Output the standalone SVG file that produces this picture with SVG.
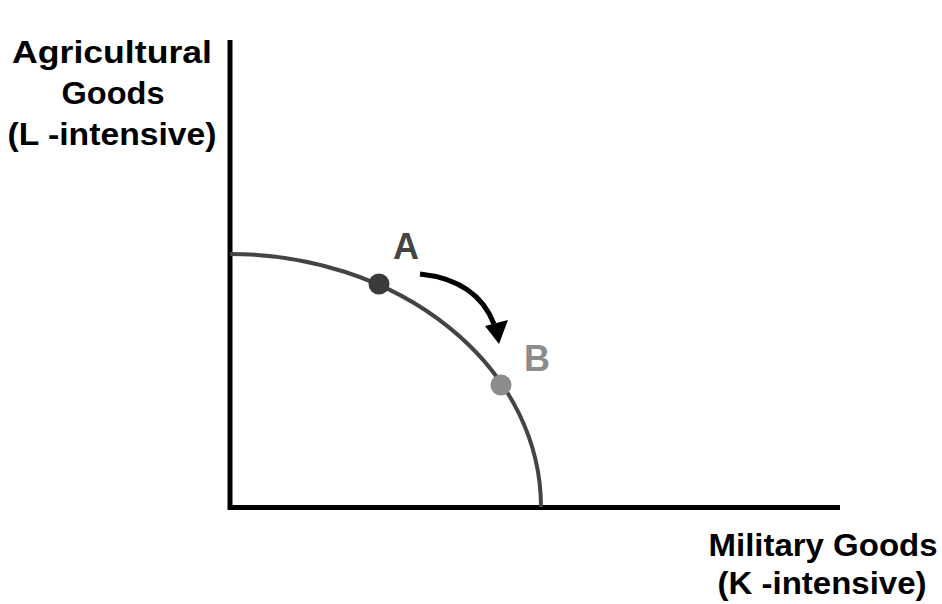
<svg xmlns="http://www.w3.org/2000/svg" width="942" height="604" viewBox="0 0 942 604">
<style>
.lbl{font-family:"Liberation Sans",Arial,sans-serif;font-weight:bold;font-size:32px;fill:#000;text-anchor:middle}
.pt{font-family:"Liberation Sans",Arial,sans-serif;font-weight:bold;font-size:36px;text-anchor:middle}
</style>
<rect width="942" height="604" fill="#fff"/>
<g id="axes" stroke="#000" stroke-width="5" fill="none">
<line x1="230" y1="40" x2="230" y2="510"/>
<line x1="228" y1="507.5" x2="840" y2="507.5"/>
</g>
<g id="ylabel">
<text class="lbl" x="112" y="63" textLength="200" lengthAdjust="spacingAndGlyphs">Agricultural</text>
<text class="lbl" x="113" y="104" textLength="103" lengthAdjust="spacingAndGlyphs">Goods</text>
<text class="lbl" x="112" y="145" textLength="209" lengthAdjust="spacingAndGlyphs">(L -intensive)</text>
</g>
<g id="xlabel">
<text class="lbl" x="823" y="556" textLength="229" lengthAdjust="spacingAndGlyphs">Military Goods</text>
<text class="lbl" x="822" y="594" textLength="209" lengthAdjust="spacingAndGlyphs">(K -intensive)</text>
</g>
<g id="ppf">
<path d="M230,254 A311,253 0 0 1 541,507" fill="none" stroke="#444" stroke-width="4"/>
</g>
<g id="pointA">
<circle cx="379" cy="284" r="10.5" fill="#3a3a3a"/>
<text class="pt" x="406" y="259" fill="#444">A</text>
</g>
<g id="pointB">
<circle cx="501" cy="385" r="10.5" fill="#8c8c8c"/>
<text class="pt" x="537" y="371" fill="#8c8c8c">B</text>
</g>
<g id="connectors">
<path d="M420,274 Q477,280 494,324" fill="none" stroke="#000" stroke-width="5"/>
<polygon points="499,344 485,326 508,320" fill="#000"/>
</g>
</svg>
